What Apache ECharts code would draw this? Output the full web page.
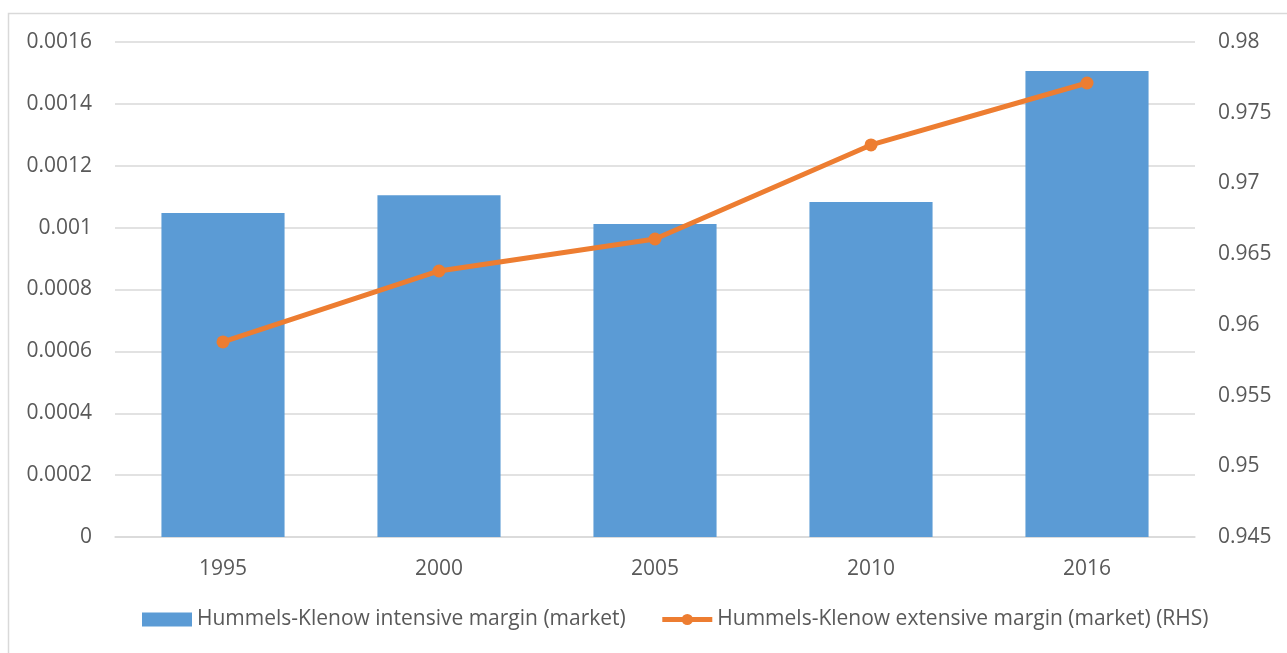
<!DOCTYPE html>
<html>
<head>
<meta charset="utf-8">
<script src="https://cdn.jsdelivr.net/npm/echarts@6/dist/echarts.min.js"></script>
<style>
  html, body { margin: 0; padding: 0; background: #fff; }
  #chart { width: 1287px; height: 653px; }
</style>
</head>
<body>
<div id="chart"></div>
<script>
// Hummels-Klenow margins by year
const years = ['1995', '2000', '2005', '2010', '2016'];
const intensiveMargin = [0.001047, 0.001105, 0.001012, 0.001083, 0.001506];
const extensiveMargin = [0.95879, 0.96381, 0.96607, 0.97272, 0.97710];
const leftTicks = ['0', '0.0002', '0.0004', '0.0006', '0.0008', '0.001', '0.0012', '0.0014', '0.0016'];
const rightTicks = ['0.945', '0.95', '0.955', '0.96', '0.965', '0.97', '0.975', '0.98'];

const FONT = 'Open Sans, Liberation Sans, sans-serif';
const TEXT = '#595959';
const SIZE = 21;

const chart = echarts.init(document.getElementById('chart'), null, { renderer: 'canvas' });

chart.setOption({
  animation: false,
  backgroundColor: '#ffffff',
  textStyle: { fontFamily: FONT, color: TEXT },
  graphic: [{
    type: 'polyline',
    shape: { points: [[8.5, 653], [8.5, 13.5], [1287, 13.5]] },
    style: { stroke: '#d9d9d9', lineWidth: 1.5, fill: null },
    silent: true
  }],
  grid: { left: 115, right: 92, top: 42, bottom: 116, containLabel: false },
  legend: {
    bottom: 18,
    left: 137,
    itemGap: 34,
    itemWidth: 50,
    itemHeight: 14,
    textStyle: { fontFamily: FONT, fontSize: SIZE, color: TEXT },
    data: [
      { name: 'Hummels-Klenow intensive margin (market)', icon: 'rect' },
      {
        name: 'Hummels-Klenow extensive margin (market) (RHS)',
        lineStyle: { width: 5, color: '#ed7d31' },
        itemStyle: { color: '#ed7d31' }
      }
    ]
  },
  xAxis: {
    type: 'category',
    data: years,
    axisLine: { lineStyle: { color: '#d9d9d9', width: 1.5 } },
    axisTick: { show: false },
    axisLabel: { fontFamily: FONT, fontSize: SIZE, color: TEXT, margin: 22 }
  },
  yAxis: [
    {
      type: 'value',
      min: 0, max: 0.0016, interval: 0.0002,
      axisLine: { show: false },
      axisTick: { show: false },
      splitLine: { lineStyle: { color: '#d9d9d9', width: 1.5 } },
      axisLabel: {
        fontFamily: FONT, fontSize: SIZE, color: TEXT, margin: 23,
        formatter: (v) => leftTicks[Math.round(v / 0.0002)]
      }
    },
    {
      type: 'value',
      min: 0.945, max: 0.98, interval: 0.005,
      axisLine: { show: false },
      axisTick: { show: false },
      splitLine: { show: false },
      axisLabel: {
        fontFamily: FONT, fontSize: SIZE, color: TEXT, margin: 23,
        formatter: (v) => rightTicks[Math.round((v - 0.945) / 0.005)]
      }
    }
  ],
  series: [
    {
      name: 'Hummels-Klenow intensive margin (market)',
      type: 'bar',
      data: intensiveMargin,
      barWidth: '57%',
      itemStyle: { color: '#5b9bd5' }
    },
    {
      name: 'Hummels-Klenow extensive margin (market) (RHS)',
      type: 'line',
      yAxisIndex: 1,
      data: extensiveMargin,
      symbol: 'circle',
      symbolSize: 13,
      lineStyle: { color: '#ed7d31', width: 5 },
      itemStyle: { color: '#ed7d31' }
    }
  ]
});
</script>
</body>
</html>
